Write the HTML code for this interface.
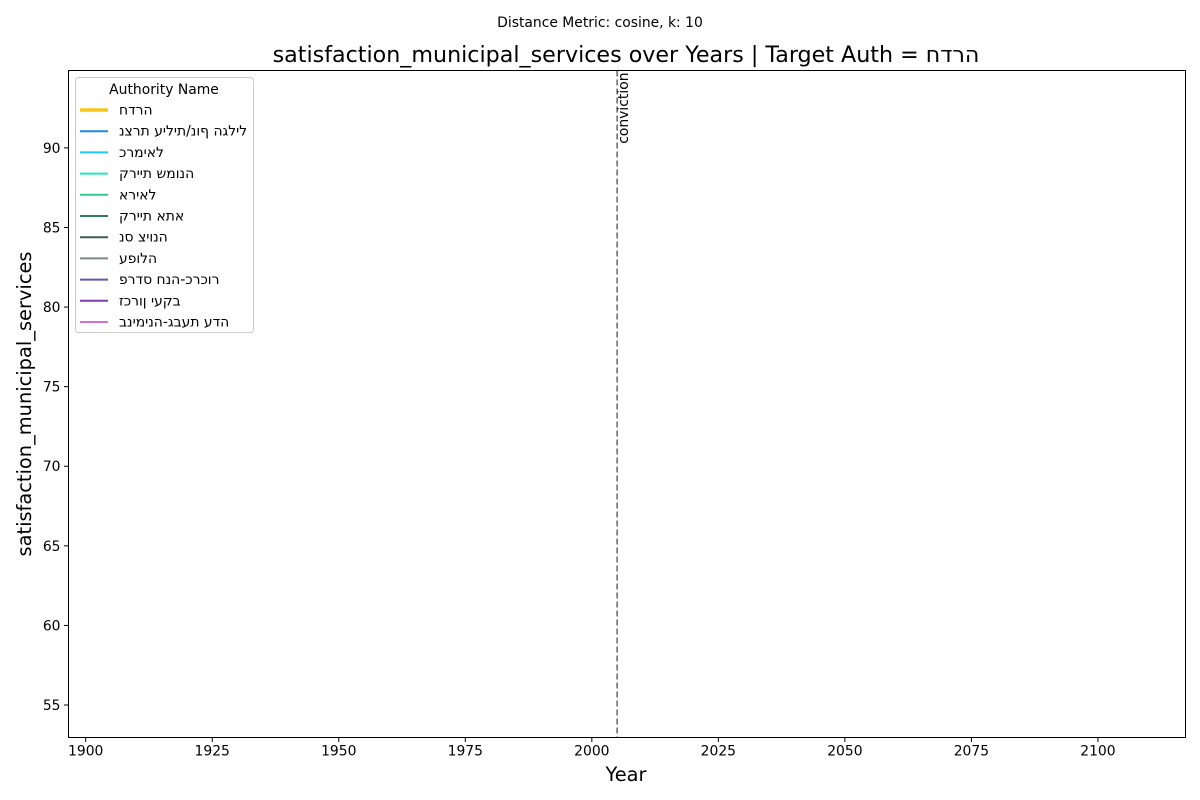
<!DOCTYPE html>
<html><head><meta charset="utf-8">
<style>
body{margin:0;background:#fff;}
svg{display:block;font-family:"DejaVu Sans","Liberation Sans",sans-serif;}
</style></head>
<body>
<svg id="chart" width="1200" height="800" xmlns="http://www.w3.org/2000/svg">
<text x="600" y="27" font-size="13.9" text-anchor="middle">Distance Metric: cosine, k: 10</text>
<text x="626" y="62" font-size="22.2" text-anchor="middle">satisfaction_municipal_services over Years | Target Auth = &#x202D;חדרה&#x202C;</text>
<text x="626" y="781" font-size="19.4" text-anchor="middle">Year</text>
<text transform="translate(31,404) rotate(-90)" font-size="19.4" text-anchor="middle">satisfaction_municipal_services</text>
<g id="ticks"></g>
<g id="marks"></g>
<rect x="68.5" y="70.5" width="1117" height="667" fill="none" stroke="#000" stroke-width="1"/>
<g id="legend"></g>
</svg>
<script>
const xTicks=[1900,1925,1950,1975,2000,2025,2050,2075,2100];
const yTicks=[55,60,65,70,75,80,85,90];
const xDomain=[1896.6,2117.3];
const yDomain=[52.96,94.86];
const eventYears=[2005];
const eventLabels=['conviction'];
const authorities=['חדרה','נצרת עילית/נוף הגליל','כרמיאל','קריית שמונה','אריאל','קריית אתא','נס ציונה','עפולה','פרדס חנה-כרכור','זכרון יעקב','בנימינה-גבעת עדה'];
const colors=['#f5c518','#1e88e5','#1ec8f0','#1de9b6','#2ecc8a','#2e7d5b','#3e5f50','#7a8c84','#5e5aa8','#7b3fb0','#d070d8'];

const L=68.5,R=1185.5,T=70.5,B=737.5;
const NS='http://www.w3.org/2000/svg';
function xs(v){return L+(v-xDomain[0])/(xDomain[1]-xDomain[0])*(R-L);}
function ys(v){return B-(v-yDomain[0])/(yDomain[1]-yDomain[0])*(B-T);}
function mk(tag,attrs,parent){const e=document.createElementNS(NS,tag);for(const k in attrs)e.setAttribute(k,attrs[k]);parent.appendChild(e);return e;}
const tg=document.getElementById('ticks');
xTicks.forEach(t=>{
  const l=mk('line',{x1:xs(t),x2:xs(t),y1:B,y2:B+4.5,stroke:'#000'},tg);
  
  
  const tx=mk('text',{x:xs(t),y:B+18,'font-size':13.9,'text-anchor':'middle'},tg);
  
  
  tx.textContent=t;
});
yTicks.forEach(t=>{
  const l=mk('line',{x1:L-4.5,x2:L,y1:ys(t),y2:ys(t),stroke:'#000'},tg);
  
  
  const tx=mk('text',{x:L-8,y:ys(t)+5,'font-size':13.9,'text-anchor':'end'},tg);
  
  
  tx.textContent=t;
});
const mg=document.getElementById('marks');
eventYears.forEach((yr,i)=>{
  const l=mk('line',{x1:xs(yr),x2:xs(yr),y1:T,y2:B,stroke:'#666','stroke-width':1.5,'stroke-dasharray':'6,3'},mg);
  
  
  const tx=mk('text',{transform:`translate(${xs(yr)+11},${T+2}) rotate(-90)`,'font-size':13.9,'text-anchor':'end'},mg);
  
  
  tx.textContent=eventLabels[i];
});
const lg=document.getElementById('legend');
const box=mk('rect',{x:75.5,y:77.5,width:178,height:255,rx:3,fill:'#fff','fill-opacity':0.8,stroke:'#ccc'},lg);


const lt=mk('text',{x:164,y:94,'font-size':13.9,'text-anchor':'middle'},lg);


lt.textContent='Authority Name';
authorities.forEach((a,i)=>{
  const y=110+i*21.2;
  const g=mk('g',{},lg);
  
  
  mk('line',{x1:80,x2:108,y1:y,y2:y,stroke:colors[i],'stroke-width':i===0?3.5:2},g);
  const tx=mk('text',{x:119,y:y+4.5,'font-size':13.9},g);
  
  
  tx.textContent='\u202D'+a+'\u202C';
});
</script>
</body></html>
